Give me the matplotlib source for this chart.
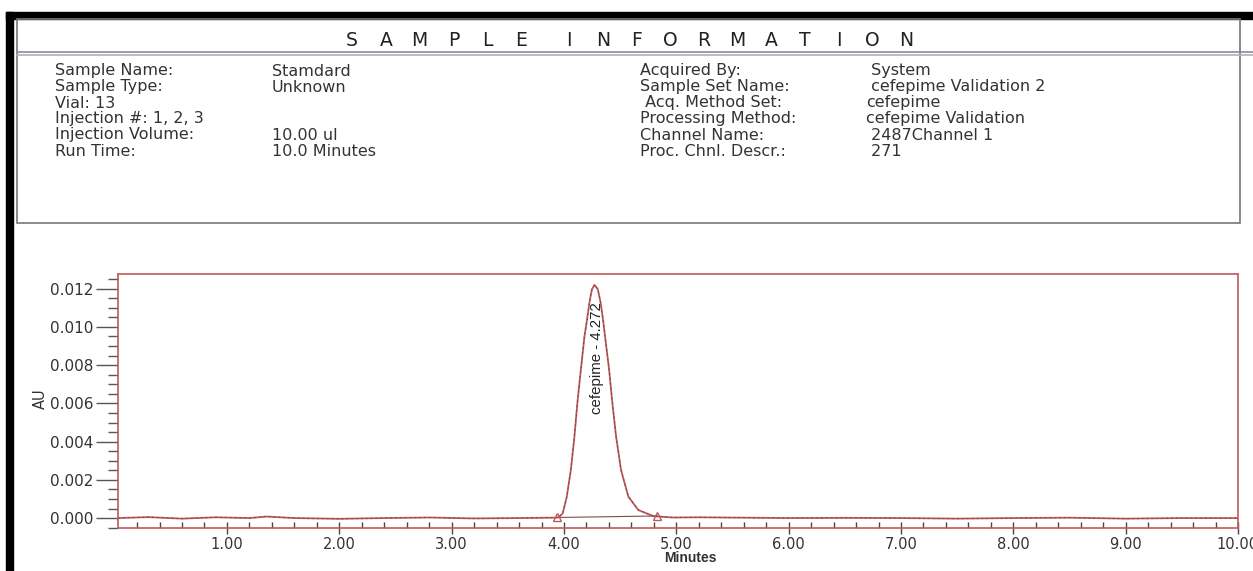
import matplotlib
matplotlib.use("Agg")
import matplotlib.pyplot as plt
from matplotlib.lines import Line2D
from matplotlib.patches import Rectangle
from matplotlib.ticker import MultipleLocator, FormatStrFormatter

W, H = 1253, 571
SANS = ['Liberation Sans', 'DejaVu Sans']
WIDE = ['DejaVu Sans']

# sample information block
left_labels = ["Sample Name:", "Sample Type:", "Vial: 13", "Injection #: 1, 2, 3",
               "Injection Volume:", "Run Time:"]
left_values = ["Stamdard", "Unknown", "", "", "10.00 ul", "10.0 Minutes"]
right_labels = ["Acquired By:", "Sample Set Name:", " Acq. Method Set:",
                "Processing Method:", "Channel Name:", "Proc. Chnl. Descr.:"]
right_values = [" System", " cefepime Validation 2", "cefepime",
                "cefepime Validation", " 2487Channel 1", " 271"]

# chromatogram (minutes, AU)
rt_min = [0.03, 0.3, 0.6, 0.9, 1.2, 1.35, 1.6, 2.0, 2.4, 2.8, 3.2, 3.6, 3.9,
          3.950, 3.989, 4.025, 4.061, 4.093, 4.119, 4.150, 4.182, 4.205, 4.226,
          4.239, 4.250, 4.272, 4.300, 4.312, 4.327, 4.348, 4.366, 4.402, 4.431,
          4.464, 4.508, 4.573, 4.662, 4.796, 4.971,
          5.2, 5.6, 6.0, 6.5, 7.0, 7.5, 8.0, 8.5, 9.0, 9.5, 10.0]
au = [0.0, 0.00005, -0.00003, 0.00004, 0.0, 0.00008, 0.0, -0.00004, 0.0, 0.00003,
      -0.00002, 0.0, 0.00002,
      0.00003, 0.00025, 0.00112, 0.00251, 0.00426, 0.00601, 0.00775, 0.00949,
      0.01037, 0.01124, 0.01168, 0.01198, 0.01220, 0.01198, 0.01168, 0.01124,
      0.01037, 0.00949, 0.00775, 0.00601, 0.00426, 0.00251, 0.00112, 0.00042,
      0.00010, 0.00003,
      0.00004, 0.00002, 0.0, 0.00001, 0.0, -0.00003, 0.0, 0.00002, -0.00003,
      0.0, 0.0]
peak_name = "cefepime"
peak_rt = 4.272
peak_start = (3.94, 0.00003)
peak_end = (4.83, 0.00011)


def fx(x):
    return x / W


def fy(y):
    return 1 - y / H


fig = plt.figure(figsize=(W / 100, H / 100), dpi=100)

# black page edges
fig.add_artist(Rectangle((fx(6), fy(19)), fx(W - 6), 7 / H, color='black',
                         transform=fig.transFigure))
fig.add_artist(Rectangle((fx(6), 0), fx(7), fy(12), color='black',
                         transform=fig.transFigure))

# info box
fig.add_artist(Rectangle((fx(17), fy(223)), fx(1240 - 17), (223 - 19) / H,
                         fill=False, ec='#777777', lw=1.2,
                         transform=fig.transFigure))
for yy, c in [(51.5, '#8a8a9a'), (54.5, '#b0b0c0')]:
    fig.add_artist(Line2D([fx(17), fx(1253)], [fy(yy), fy(yy)], color=c, lw=1.2,
                          transform=fig.transFigure))

for k, ch in enumerate("SAMPLE"):
    fig.text(fx(352 + 33.8 * k), fy(40), ch, ha='center', va='center',
             fontsize=13.5, family=WIDE, color='#222222')
for k, ch in enumerate("INFORMATION"):
    fig.text(fx(569 + 33.7 * k), fy(40), ch, ha='center', va='center',
             fontsize=13.5, family=WIDE, color='#222222')

for i in range(len(left_labels)):
    yy = fy(71 + 16 * i)
    kw = dict(ha='left', va='center', fontsize=11.5, family=WIDE, color='#333333')
    fig.text(fx(55), yy, left_labels[i], **kw)
    fig.text(fx(272), yy, left_values[i], **kw)
    fig.text(fx(640), yy, right_labels[i], **kw)
    fig.text(fx(866), yy, right_values[i], **kw)

# chromatogram axes
ax = fig.add_axes([fx(118), fy(528), (1238 - 118) / W, (528 - 274) / H])
red = '#c05a5a'
ax.plot(rt_min, au, color=red, lw=1.3)
ax.plot(rt_min, au, color='#333333', lw=0.7, ls=(0, (2, 3)), alpha=0.55)
ax.plot([peak_start[0], peak_end[0]], [peak_start[1], peak_end[1]],
        color='#7a5050', lw=0.8)
ax.plot([peak_start[0], peak_end[0]], [peak_start[1], peak_end[1]], ls='none',
        marker='^', ms=6, mfc='none', mec=red, mew=1)
ax.text(4.290, 0.00838, f"{peak_name} - {peak_rt:.3f}", rotation=90,
        ha='center', va='center', fontsize=10.8, family=SANS, color='#222222')

ax.set_xlim(0.03, 10.0)
ax.set_ylim(-0.00052, 0.01277)
for s in ax.spines.values():
    s.set_color(red)
    s.set_linewidth(1.2)

ax.xaxis.set_major_locator(MultipleLocator(1.0))
ax.xaxis.set_minor_locator(MultipleLocator(0.2))
ax.xaxis.set_major_formatter(FormatStrFormatter('%.2f'))
ax.yaxis.set_major_locator(MultipleLocator(0.002))
ax.yaxis.set_minor_locator(MultipleLocator(0.0005))
ax.yaxis.set_major_formatter(FormatStrFormatter('%.3f'))
ax.tick_params(axis='x', which='major', direction='inout', length=9, width=1,
               color='#444444', pad=2)
ax.tick_params(axis='x', which='minor', direction='in', length=4, width=1,
               color='#444444')
ax.tick_params(axis='y', which='major', direction='out', length=16, width=1,
               color='#555555', pad=1.5)
ax.tick_params(axis='y', which='minor', direction='out', length=7, width=1,
               color='#555555')
ax.set_xticks([t for t in range(1, 11)])
for lab in ax.get_xticklabels():
    lab.set_family('DejaVu Sans')
    lab.set_fontsize(10.5)
    lab.set_color('#333333')
for lab in ax.get_yticklabels():
    lab.set_family('DejaVu Sans')
    lab.set_fontsize(11)
    lab.set_color('#333333')

fig.text(fx(40), fy(399), "AU", rotation=90, ha='center', va='center',
         fontsize=10.5, family=WIDE, color='#333333')
fig.text(fx(690), fy(558), "Minutes", ha='center', va='center', fontsize=10,
         family=SANS, color='#333333', weight='bold')

fig.savefig("out.png", dpi=100)
